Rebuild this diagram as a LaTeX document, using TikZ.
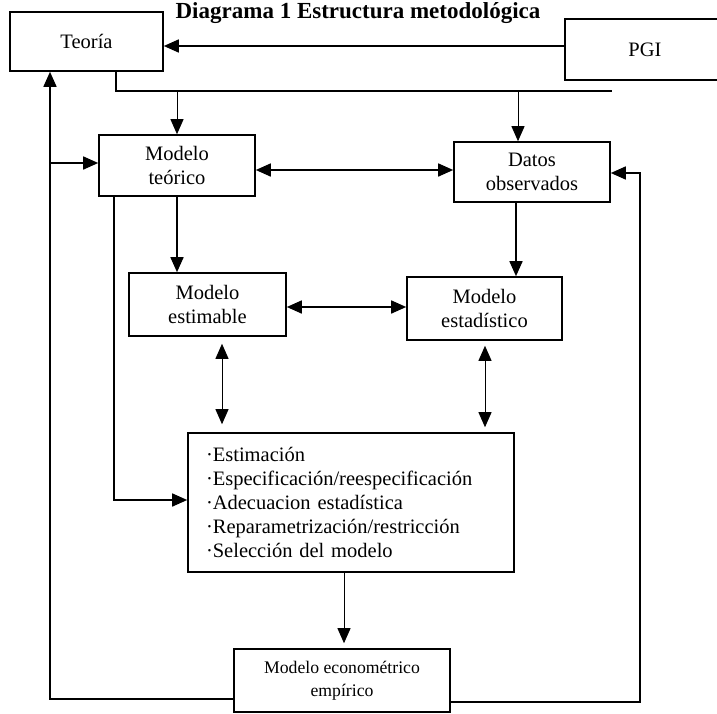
\documentclass[tikz,border=0pt]{standalone}
\usepackage{fontspec}
\setmainfont{Liberation Serif}
\usetikzlibrary{arrows.meta}
\begin{document}
\begin{tikzpicture}[x=1pt,y=-1pt,
  box/.style={draw, line width=1.6pt, rectangle, align=center, inner sep=0pt,
    font=\fontsize{20.5}{24.5}\selectfont},
  arr/.style={line width=1.6pt, -{Triangle[length=15pt,width=13pt]}},
  darr/.style={line width=1.6pt, {Triangle[length=15pt,width=13pt]}-{Triangle[length=15pt,width=13pt]}},
  plain/.style={line width=1.6pt},
  thinline/.style={line width=0.9pt},
]
\useasboundingbox (0,0) rectangle (717,713);
\clip (0,0) rectangle (717,713);

% title
\node[font=\bfseries\fontsize{23}{28}\selectfont, anchor=base, inner sep=0pt] (title) at (358,18) {Diagrama 1 Estructura metodológica};

% boxes
\node[box, minimum width=153pt, minimum height=59pt] (teoria) at (86.5,41.5) {Teoría};
\node[box, minimum width=160pt, minimum height=61pt] (pgi) at (645,49.5) {PGI};
\node[box, minimum width=156pt, minimum height=61pt] (mt) at (177,165.5) {Modelo\\teórico};
\node[box, minimum width=156pt, minimum height=60pt] (dob) at (532,172) {Datos\\observados};
\node[box, minimum width=157pt, minimum height=63pt] (mest) at (207.5,304.5) {Modelo\\estimable};
\node[box, minimum width=155pt, minimum height=63pt] (mstat) at (484.5,308.5) {Modelo\\estadístico};
\node[box, minimum width=326pt, minimum height=139pt, text width=290pt, align=left,
  font=\fontsize{20.5}{24}\selectfont] (big) at (351,502.5)
  {·Estimación\\·Especificación/reespecificación\\·Adecuacion estadística\\·Reparametrización/restricción\\·Selección del  modelo};
\node[box, minimum width=216pt, minimum height=63pt, font=\fontsize{17.7}{23}\selectfont] (mee) at (342,680.5) {Modelo econométrico\\empírico};

% helper coordinates
\coordinate (h0) at (0,46);
\coordinate (tl) at (116,91);
\coordinate (tr) at (612,91);
\coordinate (d2) at (518,91);
\coordinate (lb) at (50,699);
\coordinate (lm) at (50,163);
\coordinate (mb) at (114,500);
\coordinate (h1) at (0,170);
\coordinate (v2) at (516,0);
\coordinate (h2) at (0,307);
\coordinate (v3) at (222,0);
\coordinate (v4) at (485,0);
\coordinate (v5) at (344,0);
\coordinate (rb) at (640,702);
\coordinate (rt) at (640,173);

% connectors
\draw[arr] (pgi.west |- h0) -- (teoria.east |- h0);
\draw[plain] (teoria.south -| tl) -- (tl) -- (tr);
\draw[arr, thinline] (tl -| mt.north) -- (mt.north);
\draw[arr, thinline] (d2) -- (d2 |- dob.north);
\draw[arr] (mee.west |- lb) -- (lb) -- (lb |- teoria.south);
\draw[arr] (lm) -- (lm -| mt.west);
\draw[arr] (mt.south -| mb) -- (mb) -- (mb -| big.west);
\draw[darr] (mt.east |- h1) -- (dob.west |- h1);
\draw[arr] (mt.south) -- (mt.south |- mest.north);
\draw[arr] (dob.south -| v2) -- (mstat.north -| v2);
\draw[darr] (mest.east |- h2) -- (mstat.west |- h2);
\draw[darr, thinline, shorten <=7pt, shorten >=8pt] (mest.south -| v3) -- (big.north -| v3);
\draw[darr, thinline, shorten <=5pt, shorten >=5pt] (mstat.south -| v4) -- (big.north -| v4);
\draw[arr, thinline, shorten >=5pt] (big.south -| v5) -- (mee.north -| v5);
\draw[arr] (mee.east |- rb) -- (rb) -- (rt) -- (rt -| dob.east);
\end{tikzpicture}
\end{document}
